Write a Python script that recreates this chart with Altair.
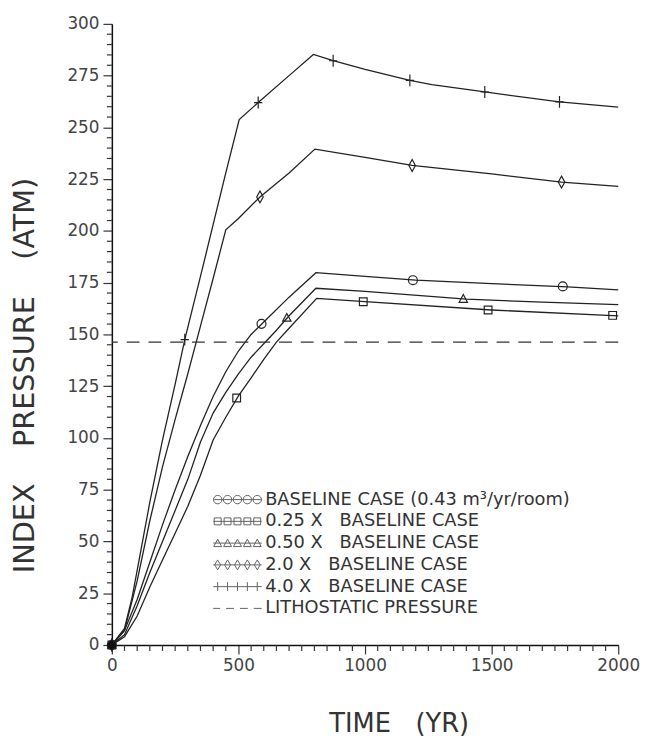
import altair as alt
import pandas as pd

NB = "\u00a0"
SERIES = [
    "BASELINE CASE (0.43 m³/yr/room)",
    "0.25 X" + NB * 3 + "BASELINE" + NB + "CASE",
    "0.50 X" + NB * 3 + "BASELINE" + NB + "CASE",
    "2.0 X" + NB * 3 + "BASELINE" + NB + "CASE",
    "4.0 X" + NB * 3 + "BASELINE" + NB + "CASE",
]
LITHO_LABEL = "LITHOSTATIC PRESSURE"

# curve data (time yr, index pressure atm)
base_t = [0, 50, 100, 150, 200, 250, 300, 350, 400, 450, 500, 550, 600, 700, 806, 1000, 1200, 1500, 1800, 2000]
base_p = [0, 7, 22, 40, 58, 75, 91, 106, 120, 132, 142, 150, 156, 168, 179.8, 178, 176.2, 174.5, 173, 171.5]

q25_t = [0, 50, 100, 150, 200, 250, 300, 350, 400, 450, 500, 550, 600, 650, 700, 809, 1000, 1500, 2000]
q25_p = [0, 4, 14, 28, 41, 54, 67, 82, 99, 110, 120.3, 129, 138, 146.3, 153, 167.4, 165.8, 161.8, 159]

h50_t = [0, 50, 100, 150, 200, 250, 300, 350, 400, 450, 500, 550, 600, 650, 700, 806, 1000, 1400, 1700, 2000]
h50_p = [0, 5, 19, 35, 50, 65, 80, 98, 112, 122, 131, 139, 145.5, 152, 159, 172.3, 170.8, 167, 165.6, 164.4]

x2_t = [0, 50, 100, 150, 200, 250, 300, 350, 400, 450, 500, 585, 700, 802, 1000, 1186, 1500, 1776, 2000]
x2_p = [0, 7, 31, 60, 86, 109, 131, 154, 177, 200.5, 206, 216.4, 228, 239.5, 235.5, 231.6, 227.5, 223.6, 221.5]

x4_t = [0, 50, 80, 100, 150, 200, 250, 288, 350, 400, 450, 503, 578, 700, 796, 874, 1000, 1177, 1264, 1473, 1768, 2000]
x4_p = [0, 8, 23, 36, 69, 99, 126, 147.5, 178, 203, 228, 253.8, 262, 275, 285.2, 282.2, 278, 272.7, 270.6, 267.1, 262.3, 259.8]

# marker positions
base_mt = [0, 591, 1189, 1781]
base_mp = [0, 155.1, 176.2, 173.2]
q25_mt = [0, 493, 993, 1486, 1978]
q25_mp = [0, 119.3, 165.8, 161.8, 159.2]
h50_mt = [0, 691, 1388]
h50_mp = [0, 158, 167.1]
x2_mt = [0, 585, 1186, 1776]
x2_mp = [0, 216.4, 231.6, 223.6]
x4_mt = [0, 288, 578, 874, 1177, 1473, 1768]
x4_mp = [0, 147.5, 262, 282.2, 272.7, 267.1, 262.3]

LITHO = [146.3]
ORIGIN_T = [0]
ORIGIN_P = [0]

# axis ticks
X_MAJOR = [0, 500, 1000, 1500, 2000]
Y_MAJOR = [0, 25, 50, 75, 100, 125, 150, 175, 200, 225, 250, 275, 300]
X_MINOR = [v for v in range(0, 2001, 50) if v % 500]
Y_MINOR = [v for v in range(0, 301, 5) if v % 25]

curves = [(base_t, base_p), (q25_t, q25_p), (h50_t, h50_p), (x2_t, x2_p), (x4_t, x4_p)]
marks = [(base_mt, base_mp), (q25_mt, q25_mp), (h50_mt, h50_mp), (x2_mt, x2_mp), (x4_mt, x4_mp)]

rows = []
for name, (ts, ps) in zip(SERIES, curves):
    for t, p in zip(ts, ps):
        rows.append({"s": name, "t": t, "p": p})
lines_df = pd.DataFrame(rows)

rows = []
for name, (ts, ps) in zip(SERIES, marks):
    for t, p in zip(ts, ps):
        rows.append({"s": name, "t": t, "p": p})
marks_df = pd.DataFrame(rows)

litho_df = pd.DataFrame({"p": LITHO})
origin_df = pd.DataFrame({"t": ORIGIN_T, "p": ORIGIN_P})
legend_df = pd.DataFrame({"s": SERIES + [LITHO_LABEL]})
xminor_df = pd.DataFrame({"t": X_MINOR})
yminor_df = pd.DataFrame({"p": Y_MINOR})

# marker symbol paths (unit box -1..1)
MARKER_PATHS = [
    "M-0.75,0A0.75,0.75 0 1,0 0.75,0A0.75,0.75 0 1,0 -0.75,0Z",
    "M-0.65,-0.65L0.65,-0.65L0.65,0.65L-0.65,0.65Z",
    "M0,-0.75L0.7,0.55L-0.7,0.55Z",
    "M0,-1L0.55,0L0,1L-0.55,0Z",
    "M0,-1L0,1M-0.7,0L0.7,0",
]

def strip(kind):
    centers = [-4, -2, 0, 2, 4]
    p = "M-4.9,0L4.9,0"
    for c in centers:
        if kind == "circle":
            r = 0.85
            p += f"M{c - r},0A{r},{r} 0 1,0 {c + r},0A{r},{r} 0 1,0 {c - r},0Z"
        elif kind == "square":
            h = 0.7
            p += f"M{c - h},{-h}L{c + h},{-h}L{c + h},{h}L{c - h},{h}Z"
        elif kind == "triangle":
            p += f"M{c},-0.8L{c + 0.8},0.7L{c - 0.8},0.7Z"
        elif kind == "diamond":
            p += f"M{c},-1L{c + 0.6},0L{c},1L{c - 0.6},0Z"
        elif kind == "plus":
            p += f"M{c},-0.9L{c},0.9"
    return p

DASH_STRIP = "M-4.9,0L-3.5,0M-2.3,0L-0.7,0M0.5,0L2.1,0M3.3,0L4.9,0"
STRIP_PATHS = [strip("circle"), strip("square"), strip("triangle"), strip("diamond"), strip("plus"), DASH_STRIP]

FONT = "DejaVu Sans"
PLOT_W, PLOT_H = 512, 628
xscale = alt.Scale(domain=[0, 2000], nice=False, zero=False)
yscale = alt.Scale(domain=[0, 300], nice=False, zero=False)

common = dict(
    grid=False,
    domainColor="#111",
    domainWidth=1.5,
    tickColor="#333",
    tickWidth=1.2,
    tickSize=9,
    tickCount=1000,
    labelFont=FONT,
    labelFontSize=17,
    labelColor="#444",
    labelPadding=4,
    labelOverlap=False,
    labelFlush=False,
    format="d",
    titleFont=FONT,
    titleFontWeight="normal",
    titleColor="#333",
    titleBaseline="middle",
    titleAlign="center",
)

xaxis = alt.Axis(
    values=X_MAJOR,
    title="TIME" + NB * 3 + "(YR)",
    titleFontSize=26,
    titleX=290,
    titleY=79,
    **common,
)

yaxis = alt.Axis(
    values=Y_MAJOR,
    title="INDEX" + NB * 4 + "PRESSURE" + NB * 4 + "(ATM)",
    titleFontSize=29,
    titleX=-88,
    titleY=355,
    titleAngle=270,
    **common,
)

lines = alt.Chart(lines_df).mark_line(color="#222", strokeWidth=1.3).encode(
    x=alt.X("t:Q", scale=xscale, axis=xaxis),
    y=alt.Y("p:Q", scale=yscale, axis=yaxis),
    detail="s:N",
)

# minor tick marks along the axes
xminor = alt.Chart(xminor_df).mark_tick(color="#333", thickness=1.2, size=6, orient="vertical", opacity=1).encode(
    x=alt.X("t:Q", scale=xscale),
    y=alt.value(PLOT_H + 3),
)
yminor = alt.Chart(yminor_df).mark_tick(color="#333", thickness=1.2, size=5, orient="horizontal", opacity=1).encode(
    y=alt.Y("p:Q", scale=yscale),
    x=alt.value(-2.5),
)

litho = alt.Chart(litho_df).mark_rule(color="#333", strokeWidth=1.2, strokeDash=[13, 9]).encode(
    y=alt.Y("p:Q", scale=yscale)
)

points = alt.Chart(marks_df).mark_point(filled=False, color="#222", strokeWidth=1.2, size=144, opacity=1).encode(
    x=alt.X("t:Q", scale=xscale),
    y=alt.Y("p:Q", scale=yscale),
    shape=alt.Shape("s:N", scale=alt.Scale(domain=SERIES, range=MARKER_PATHS), legend=None),
)

origin = alt.Chart(origin_df).mark_circle(size=75, color="#111", opacity=1).encode(
    x=alt.X("t:Q", scale=xscale), y=alt.Y("p:Q", scale=yscale)
)

legend_layer = alt.Chart(legend_df).mark_point(filled=False, color="#222", strokeWidth=1).encode(
    shape=alt.Shape(
        "s:N",
        scale=alt.Scale(domain=SERIES + [LITHO_LABEL], range=STRIP_PATHS),
        legend=alt.Legend(
            title=None,
            orient="none",
            legendX=118,
            legendY=472,
            padding=0,
            symbolSize=100,
            symbolStrokeWidth=1,
            symbolStrokeColor="#222",
            symbolFillColor="transparent",
            labelFont=FONT,
            labelFontSize=18,
            labelColor="#333",
            labelOffset=19,
            labelLimit=600,
            rowPadding=4,
        ),
    )
).transform_filter("false")

chart = (
    alt.layer(lines, xminor, yminor, litho, points, origin, legend_layer)
    .resolve_scale(shape="independent")
    .properties(
        width=PLOT_W,
        height=PLOT_H,
        autosize=alt.AutoSizeParams(type="none"),
        padding={"left": 105, "top": 12, "right": 22, "bottom": 90},
        background="white",
    )
    .configure_view(stroke=None)
)

chart.save("out.html", embed_options={"renderer": "svg", "actions": False})
